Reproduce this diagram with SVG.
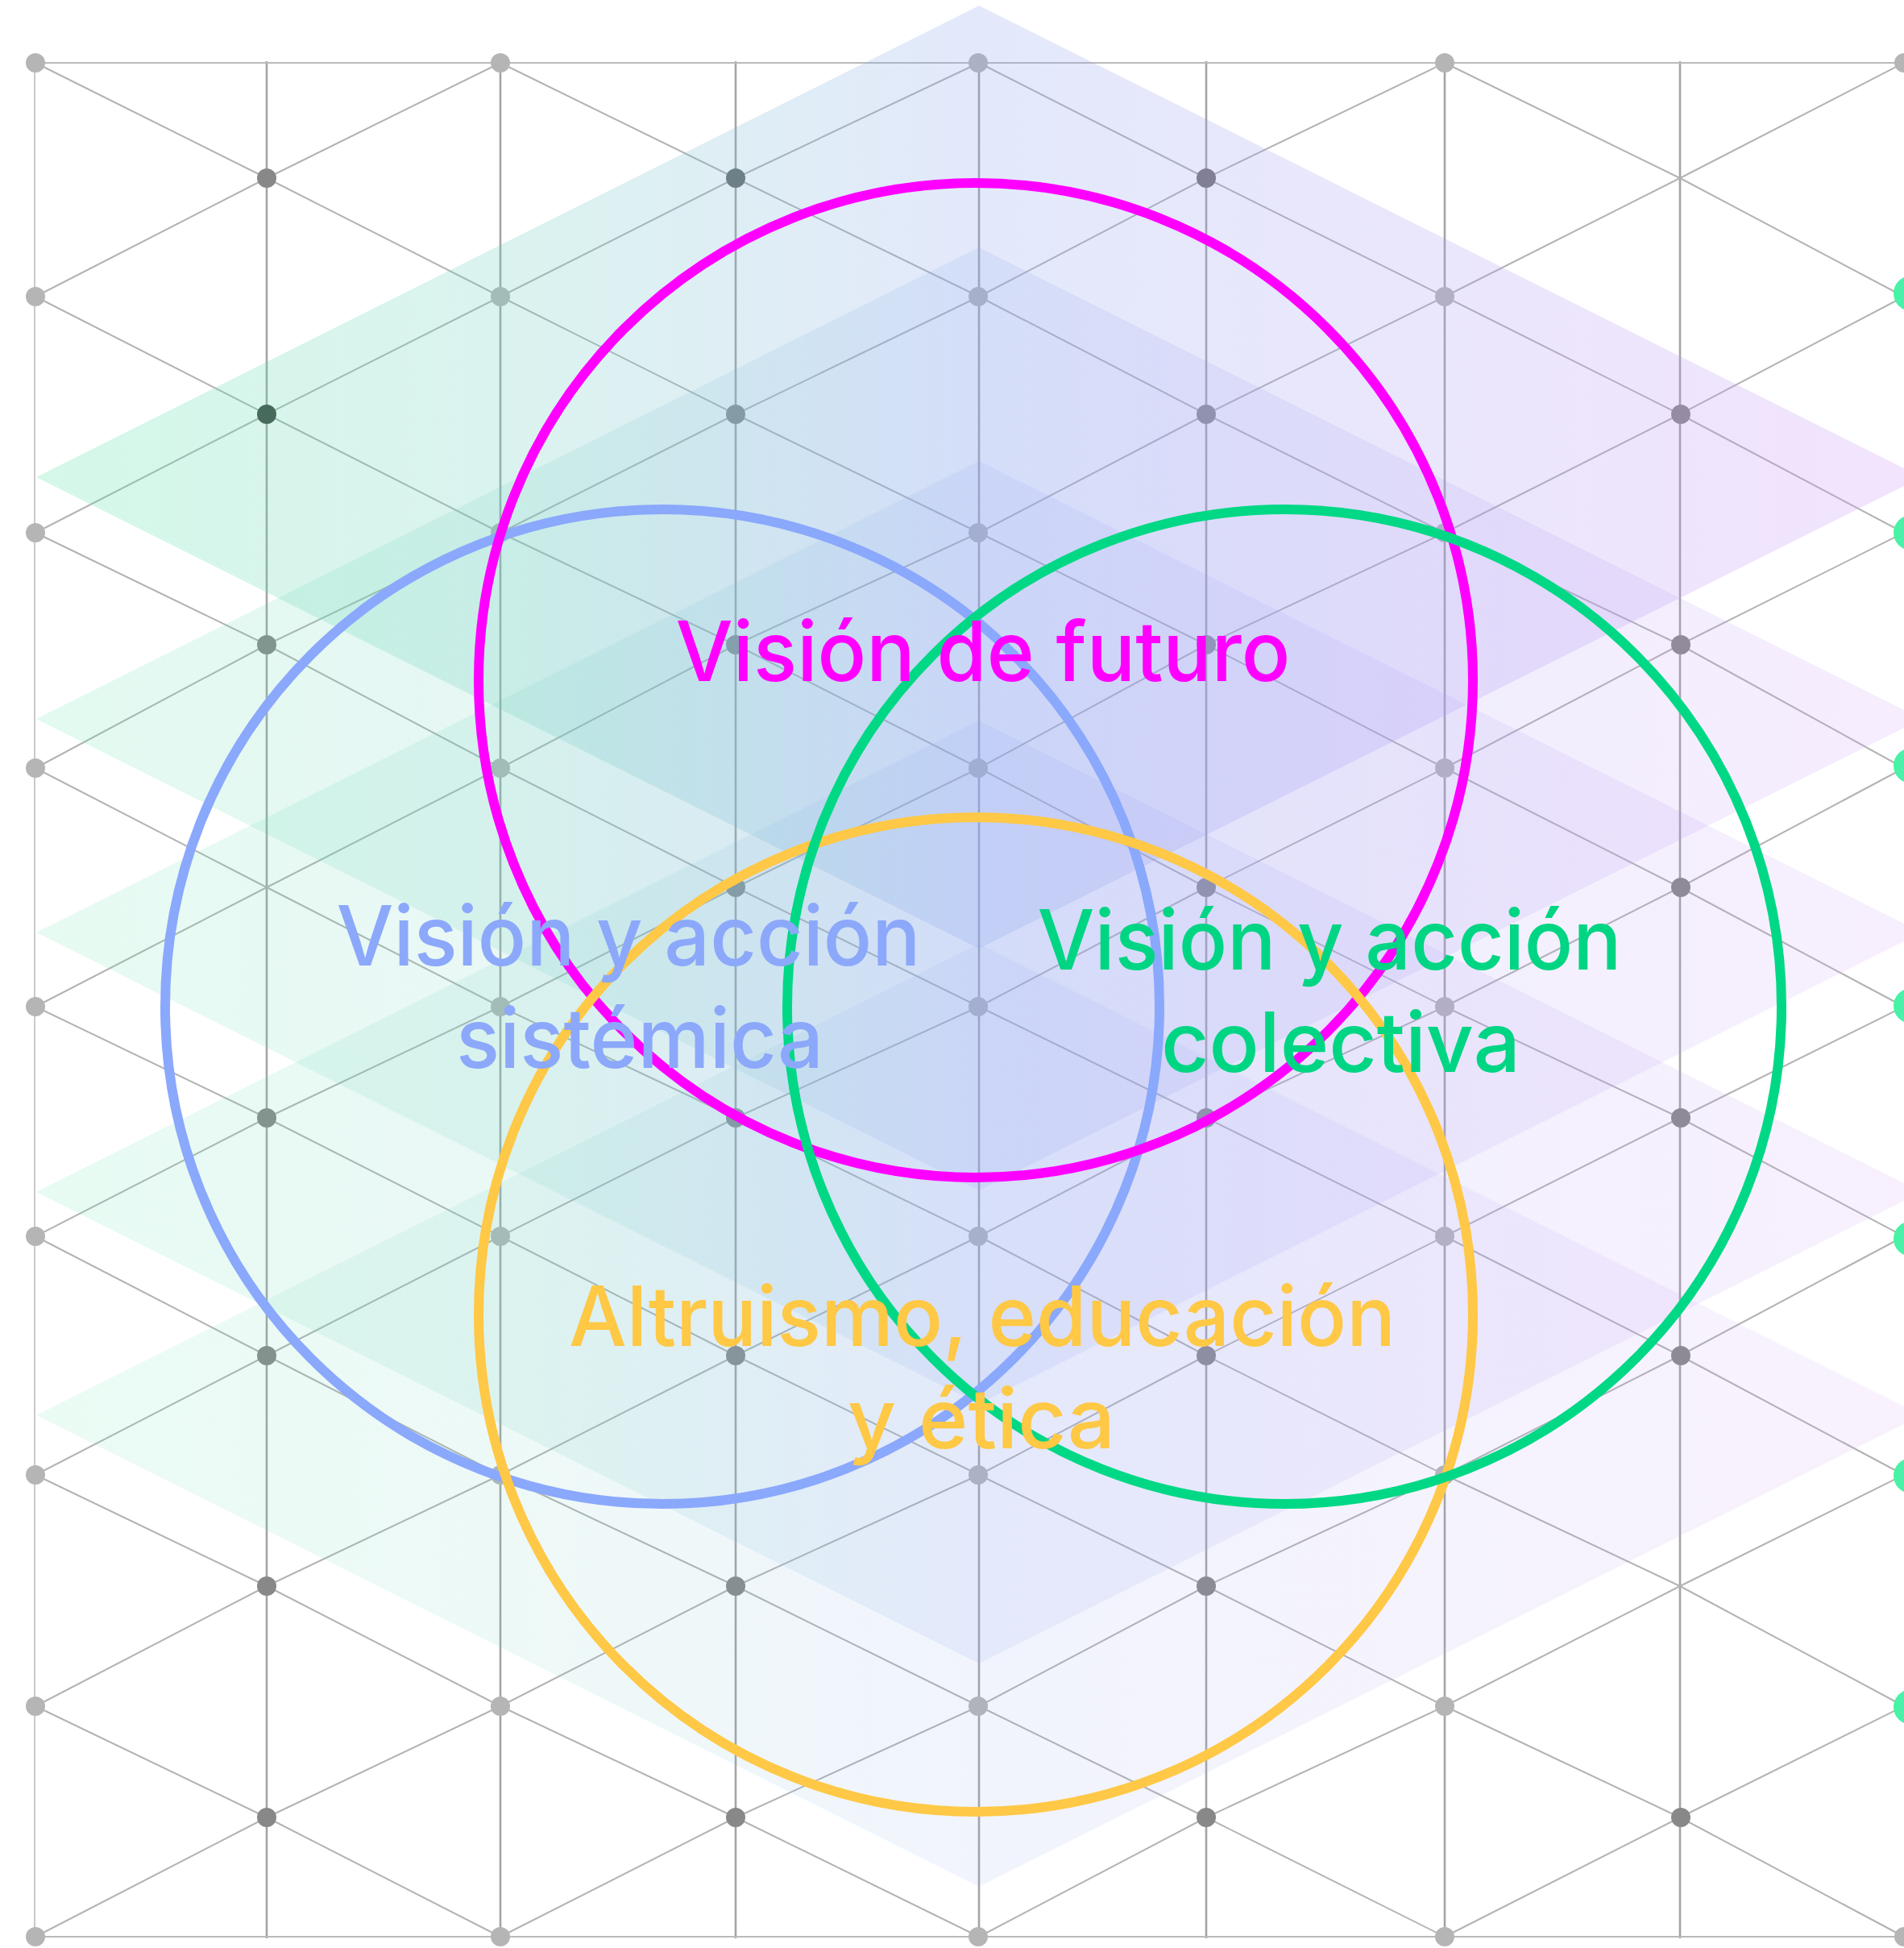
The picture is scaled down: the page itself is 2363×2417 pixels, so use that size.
<svg xmlns="http://www.w3.org/2000/svg" width="2363" height="2417" viewBox="0 0 2363 2417">
<defs>
<linearGradient id="rg" gradientUnits="userSpaceOnUse" x1="45" y1="0" x2="2385" y2="0">
<stop offset="0" stop-color="#55e2a6"/>
<stop offset="0.25" stop-color="#6fcfbf"/>
<stop offset="0.5" stop-color="#8fa7ef"/>
<stop offset="1" stop-color="#cc92f7"/>
</linearGradient>
<linearGradient id="gd" x1="0" y1="0" x2="1" y2="0">
<stop offset="0" stop-color="#45f5a0"/>
<stop offset="1" stop-color="#64e0cc"/>
</linearGradient>
<style>
.diag{fill:none;stroke:#b3b3b3;stroke-width:2}
.vert{stroke:#a4a4a4;stroke-width:2.6}
.edge{stroke:#c4c4c4;stroke-width:1.8}
.hl{stroke:#bababa;stroke-width:2}
.dl{fill:#b5b5b5}
.dd{fill:#888888}
.ge{fill:url(#gd)}
.rh{fill:url(#rg)}
.ring{fill:none;stroke-width:12}
.lbl{font-family:Inter,"Liberation Sans",sans-serif;font-weight:500;font-size:103px;text-anchor:middle}
</style>
</defs>
<rect width="2363" height="2417" fill="#ffffff"/>

<g id="grid-lines">
<line class="edge" x1="43" y1="78" x2="43" y2="2403"/>
<line class="vert" x1="331" y1="76" x2="331" y2="2405"/>
<line class="vert" x1="621" y1="76" x2="621" y2="2405"/>
<line class="vert" x1="913" y1="76" x2="913" y2="2405"/>
<line class="vert" x1="1215" y1="76" x2="1215" y2="2405"/>
<line class="vert" x1="1497" y1="76" x2="1497" y2="2405"/>
<line class="vert" x1="1793" y1="76" x2="1793" y2="2405"/>
<line class="vert" x1="2085" y1="76" x2="2085" y2="2405"/>
<line class="hl" x1="43" y1="78" x2="2363" y2="78"/>
<line class="hl" x1="43" y1="2403" x2="2363" y2="2403"/>
<polyline class="diag" points="1793,78 2085,221 2363,368"/>
<polyline class="diag" points="1215,78 1497,221 1793,368 2085,514 2363,661"/>
<polyline class="diag" points="621,78 913,221 1215,368 1497,514 1793,661 2085,800 2363,953"/>
<polyline class="diag" points="44,78 331,221 621,368 913,514 1215,661 1497,800 1793,953 2085,1101 2363,1249"/>
<polyline class="diag" points="44,368 331,514 621,661 913,800 1215,953 1497,1101 1793,1249 2085,1387 2363,1534"/>
<polyline class="diag" points="44,661 331,800 621,953 913,1101 1215,1249 1497,1387 1793,1534 2085,1682 2363,1830"/>
<polyline class="diag" points="44,953 331,1101 621,1249 913,1387 1215,1534 1497,1682 1793,1830 2085,1968 2363,2117"/>
<polyline class="diag" points="44,1249 331,1387 621,1534 913,1682 1215,1830 1497,1968 1793,2117 2085,2255 2363,2403"/>
<polyline class="diag" points="44,1534 331,1682 621,1830 913,1968 1215,2117 1497,2255 1793,2403"/>
<polyline class="diag" points="44,1830 331,1968 621,2117 913,2255 1215,2403"/>
<polyline class="diag" points="44,2117 331,2255 621,2403"/>
<polyline class="diag" points="44,368 331,221 621,78"/>
<polyline class="diag" points="44,661 331,514 621,368 913,221 1215,78"/>
<polyline class="diag" points="44,953 331,800 621,661 913,514 1215,368 1497,221 1793,78"/>
<polyline class="diag" points="44,1249 331,1101 621,953 913,800 1215,661 1497,514 1793,368 2085,221 2363,78"/>
<polyline class="diag" points="44,1534 331,1387 621,1249 913,1101 1215,953 1497,800 1793,661 2085,514 2363,368"/>
<polyline class="diag" points="44,1830 331,1682 621,1534 913,1387 1215,1249 1497,1101 1793,953 2085,800 2363,661"/>
<polyline class="diag" points="44,2117 331,1968 621,1830 913,1682 1215,1534 1497,1387 1793,1249 2085,1101 2363,953"/>
<polyline class="diag" points="44,2403 331,2255 621,2117 913,1968 1215,1830 1497,1682 1793,1534 2085,1387 2363,1249"/>
<polyline class="diag" points="621,2403 913,2255 1215,2117 1497,1968 1793,1830 2085,1682 2363,1534"/>
<polyline class="diag" points="1215,2403 1497,2255 1793,2117 2085,1968 2363,1830"/>
<polyline class="diag" points="1793,2403 2085,2255 2363,2117"/>
</g>

<g id="grid-dots">
<g class="dl">
<circle cx="44" cy="78" r="12"/><circle cx="44" cy="368" r="12"/><circle cx="44" cy="661" r="12"/><circle cx="44" cy="953" r="12"/><circle cx="44" cy="1249" r="12"/><circle cx="44" cy="1534" r="12"/><circle cx="44" cy="1830" r="12"/><circle cx="44" cy="2117" r="12"/><circle cx="44" cy="2403" r="12"/>
<circle cx="621" cy="78" r="12"/><circle cx="621" cy="368" r="12"/><circle cx="621" cy="661" r="12"/><circle cx="621" cy="953" r="12"/><circle cx="621" cy="1249" r="12"/><circle cx="621" cy="1534" r="12"/><circle cx="621" cy="1830" r="12"/><circle cx="621" cy="2117" r="12"/><circle cx="621" cy="2403" r="12"/>
<circle cx="1214" cy="78" r="12"/><circle cx="1214" cy="368" r="12"/><circle cx="1214" cy="661" r="12"/><circle cx="1214" cy="953" r="12"/><circle cx="1214" cy="1249" r="12"/><circle cx="1214" cy="1534" r="12"/><circle cx="1214" cy="1830" r="12"/><circle cx="1214" cy="2117" r="12"/><circle cx="1214" cy="2403" r="12"/>
<circle cx="1793" cy="78" r="12"/><circle cx="1793" cy="368" r="12"/><circle cx="1793" cy="661" r="12"/><circle cx="1793" cy="953" r="12"/><circle cx="1793" cy="1249" r="12"/><circle cx="1793" cy="1534" r="12"/><circle cx="1793" cy="1830" r="12"/><circle cx="1793" cy="2117" r="12"/><circle cx="1793" cy="2403" r="12"/>
<circle cx="2363" cy="78" r="12"/><circle cx="2363" cy="2403" r="12"/>
</g>
<g class="dd">
<circle cx="331" cy="221" r="12"/><circle cx="331" cy="514" r="12" fill="#3e463e"/><circle cx="331" cy="800" r="12"/><circle cx="331" cy="1387" r="12"/><circle cx="331" cy="1682" r="12"/><circle cx="331" cy="1968" r="12"/><circle cx="331" cy="2255" r="12"/>
<circle cx="913" cy="221" r="12" fill="#686b6d"/><circle cx="913" cy="514" r="12"/><circle cx="913" cy="800" r="12"/><circle cx="913" cy="1101" r="12"/><circle cx="913" cy="1387" r="12"/><circle cx="913" cy="1682" r="12"/><circle cx="913" cy="1968" r="12"/><circle cx="913" cy="2255" r="12"/>
<circle cx="1497" cy="221" r="12" fill="#767376"/><circle cx="1497" cy="514" r="12"/><circle cx="1497" cy="800" r="12"/><circle cx="1497" cy="1101" r="12"/><circle cx="1497" cy="1387" r="12"/><circle cx="1497" cy="1682" r="12"/><circle cx="1497" cy="1968" r="12"/><circle cx="1497" cy="2255" r="12"/>
<circle cx="2086" cy="514" r="12"/><circle cx="2086" cy="800" r="12"/><circle cx="2086" cy="1101" r="12"/><circle cx="2086" cy="1387" r="12"/><circle cx="2086" cy="1682" r="12"/><circle cx="2086" cy="2255" r="12"/>
</g>
<g class="ge">
<circle cx="2372" cy="364" r="22"/><circle cx="2372" cy="661" r="22"/><circle cx="2372" cy="950" r="22"/><circle cx="2372" cy="1248" r="22"/><circle cx="2372" cy="1537" r="22"/><circle cx="2372" cy="1831" r="22"/><circle cx="2372" cy="2118" r="22"/>
</g>
</g>

<g id="layers">
<polygon class="rh" fill-opacity="0.25" points="45,592 1215,7 2385,592 1215,1177"/>
<polygon class="rh" fill-opacity="0.17" points="45,892 1215,307 2385,892 1215,1477"/>
<polygon class="rh" fill-opacity="0.15" points="45,1157 1215,572 2385,1157 1215,1742"/>
<polygon class="rh" fill-opacity="0.14" points="45,1479 1215,894 2385,1479 1215,2064"/>
<polygon class="rh" fill-opacity="0.12" points="45,1756 1215,1171 2385,1756 1215,2341"/>
</g>

<g id="circle-sistemica"><circle class="ring" stroke="#8aa8fc" cx="822" cy="1249" r="617"/></g>
<g id="circle-futuro"><circle class="ring" stroke="#ff00ff" cx="1211" cy="844" r="617"/></g>
<g id="circle-altruismo"><circle class="ring" stroke="#ffc846" cx="1211" cy="1631" r="617"/></g>
<g id="circle-colectiva"><circle class="ring" stroke="#00d885" cx="1594" cy="1249" r="617"/></g>

<g id="label-futuro"><text class="lbl" fill="#ff00ff" x="1220" y="845" textLength="763" lengthAdjust="spacingAndGlyphs">Visión de futuro</text></g>
<g id="label-sistemica">
<text class="lbl" fill="#8ca8fb" x="780" y="1198" textLength="725" lengthAdjust="spacingAndGlyphs">Visión y acción</text>
<text class="lbl" fill="#8ca8fb" x="794" y="1325" textLength="456" lengthAdjust="spacingAndGlyphs">sistémica</text>
</g>
<g id="label-colectiva">
<text class="lbl" fill="#00d583" x="1650" y="1203" textLength="725" lengthAdjust="spacingAndGlyphs">Visión y acción</text>
<text class="lbl" fill="#00d583" x="1664" y="1330" textLength="446" lengthAdjust="spacingAndGlyphs">colectiva</text>
</g>
<g id="label-altruismo">
<text class="lbl" fill="#ffc845" x="1219" y="1670" textLength="1026" lengthAdjust="spacingAndGlyphs">Altruismo, educación</text>
<text class="lbl" fill="#ffc845" x="1218" y="1797" textLength="332" lengthAdjust="spacingAndGlyphs">y ética</text>
</g>
</svg>
